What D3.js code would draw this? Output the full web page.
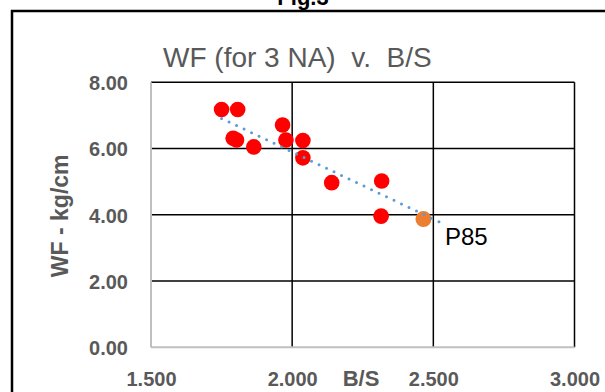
<!DOCTYPE html>
<html>
<head>
<meta charset="utf-8">
<script src="https://cdn.jsdelivr.net/npm/d3@7"></script>
<style>
  body { margin: 0; background: #fff; }
  svg { display: block; }
</style>
</head>
<body>
<svg id="chart" width="605" height="392"></svg>
<script>
// data
var bsValues = [1.750, 1.807, 1.791, 1.803, 1.864, 1.966, 1.978, 2.038, 2.038, 2.140, 2.317, 2.315];
var wfValues = [7.18, 7.18, 6.31, 6.26, 6.05, 6.71, 6.26, 6.24, 5.72, 4.97, 5.02, 3.96];
var p85Point = [2.465, 3.87];
var p85Label = 'P85';
var trendX = [1.75, 2.52];
var trendY = [6.91, 3.79];
var xTicks = [1.5, 2.0, 2.5, 3.0];
var yTicks = [0, 2, 4, 6, 8];

var svg = d3.select('#chart');
var font = '"Liberation Sans", Arial, sans-serif';

// outer frame (cut off at right and bottom)
svg.append('rect')
  .attr('x', 12)
  .attr('y', 11)
  .attr('width', 640)
  .attr('height', 420)
  .attr('fill', 'none')
  .attr('stroke', '#000')
  .attr('stroke-width', 2.5);

svg.append('text')
  .attr('x', 303)
  .attr('y', 5)
  .attr('text-anchor', 'middle')
  .attr('font-family', font)
  .attr('font-weight', 'bold')
  .attr('font-size', 22)
  .attr('fill', '#000')
  .text('Fig.3');

var x = d3.scaleLinear()
  .domain([1.5, 3.0])
  .range([151, 574.5]);

var y = d3.scaleLinear()
  .domain([0, 8])
  .range([347.3, 82.3]);

// grid
svg.append('g')
  .selectAll('line')
  .data(yTicks.filter(function(d) { return d > 0; }))
  .enter().append('line')
    .attr('x1', x(1.5))
    .attr('x2', x(3.0))
    .attr('y1', function(d) { return y(d); })
    .attr('y2', function(d) { return y(d); })
    .attr('stroke', '#000')
    .attr('stroke-width', 1.5);

svg.append('g')
  .selectAll('line')
  .data(xTicks.filter(function(d) { return d > 1.5; }))
  .enter().append('line')
    .attr('x1', function(d) { return x(d); })
    .attr('x2', function(d) { return x(d); })
    .attr('y1', y(0))
    .attr('y2', y(8))
    .attr('stroke', '#000')
    .attr('stroke-width', 1.5);

// axis lines
svg.append('line')
  .attr('x1', x(1.5)).attr('x2', x(1.5))
  .attr('y1', y(0)).attr('y2', y(8))
  .attr('stroke', '#bfbfbf').attr('stroke-width', 2);
svg.append('line')
  .attr('x1', x(1.5)).attr('x2', x(3.0))
  .attr('y1', y(0)).attr('y2', y(0))
  .attr('stroke', '#bfbfbf').attr('stroke-width', 2);

// axes (labels only)
var axisY = d3.axisLeft(y)
  .tickValues(yTicks)
  .tickFormat(d3.format('.2f'))
  .tickSize(0)
  .tickPadding(23);

var gy = svg.append('g')
  .attr('transform', 'translate(' + x(1.5) + ',0)')
  .call(axisY);
gy.select('.domain').remove();
gy.selectAll('text')
  .attr('dy', '0.36em')
  .attr('font-family', font)
  .attr('font-weight', 'bold')
  .attr('font-size', 20)
  .attr('fill', '#595959');

var axisX = d3.axisBottom(x)
  .tickValues(xTicks)
  .tickFormat(d3.format('.3f'))
  .tickSize(0);

var gx = svg.append('g')
  .call(axisX);
gx.select('.domain').remove();
gx.selectAll('text')
  .attr('y', 386)
  .attr('dy', 0)
  .attr('font-family', font)
  .attr('font-weight', 'bold')
  .attr('font-size', 20)
  .attr('fill', '#595959');

// titles
svg.append('text')
  .attr('x', 163)
  .attr('y', 67)
  .attr('font-family', font)
  .attr('font-size', 28)
  .attr('fill', '#595959')
  .style('white-space', 'pre')
  .text('WF (for 3 NA)  v.  B/S');

svg.append('text')
  .attr('x', 361)
  .attr('y', 386)
  .attr('text-anchor', 'middle')
  .attr('font-family', font)
  .attr('font-weight', 'bold')
  .attr('font-size', 22)
  .attr('fill', '#595959')
  .text('B/S');

svg.append('text')
  .attr('transform', 'translate(68,' + (y(4) + 1) + ') rotate(-90)')
  .attr('text-anchor', 'middle')
  .attr('font-family', font)
  .attr('font-weight', 'bold')
  .attr('font-size', 23)
  .attr('fill', '#595959')
  .text('WF - kg/cm');

// points
svg.append('g')
  .selectAll('circle')
  .data(bsValues)
  .enter().append('circle')
    .attr('cx', function(d) { return x(d); })
    .attr('cy', function(d, i) { return y(wfValues[i]); })
    .attr('r', 7.8)
    .attr('fill', '#ff0000');

svg.append('circle')
  .attr('cx', x(p85Point[0]))
  .attr('cy', y(p85Point[1]))
  .attr('r', 8)
  .attr('fill', '#ed7d31');

// dotted trend line
svg.append('line')
  .attr('x1', x(trendX[0]))
  .attr('y1', y(trendY[0]))
  .attr('x2', x(trendX[1]))
  .attr('y2', y(trendY[1]))
  .attr('stroke', '#5b9bd5')
  .attr('stroke-width', 3)
  .attr('stroke-linecap', 'round')
  .attr('stroke-dasharray', '0 8.3');

svg.append('text')
  .attr('x', 445)
  .attr('y', 245)
  .attr('font-family', font)
  .attr('font-size', 24)
  .attr('fill', '#000')
  .text(p85Label);
</script>
</body>
</html>
